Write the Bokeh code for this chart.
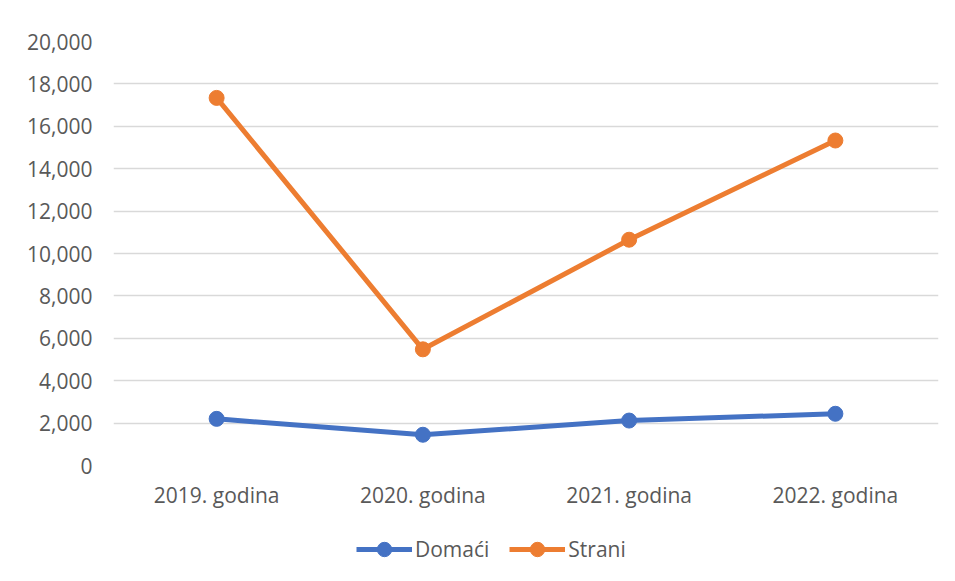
from bokeh.plotting import figure
from bokeh.layouts import column
from bokeh.models import Legend, LegendItem, NumeralTickFormatter, FixedTicker, Range1d
from bokeh.embed import file_html
from bokeh.resources import INLINE

categories = ["2019. godina", "2020. godina", "2021. godina", "2022. godina"]
domaci = [2200, 1450, 2120, 2440]
strani = [17340, 5480, 10650, 15330]
y_ticks = list(range(0, 20001, 2000))
series_names = ["Domaći", "Strani"]

BLUE = "#4472C4"
ORANGE = "#ED7D31"
TXT = "#595959"
FONT = "Open Sans"
FS = "21px"

p = figure(x_range=categories, width=947, height=511, output_backend="svg",
           toolbar_location=None, min_border_left=113, min_border_right=9,
           min_border_top=41, min_border_bottom=46)
p.y_range = Range1d(0, 20000)
p.outline_line_color = None

p.line(categories, domaci, line_color=BLUE, line_width=5)
p.scatter(categories, domaci, size=15, fill_color=BLUE, line_color=BLUE)
p.line(categories, strani, line_color=ORANGE, line_width=5)
p.scatter(categories, strani, size=15, fill_color=ORANGE, line_color=ORANGE)

p.yaxis.ticker = FixedTicker(ticks=y_ticks)
p.yaxis.formatter = NumeralTickFormatter(format="0,0")
for ax in (p.xaxis[0], p.yaxis[0]):
    ax.axis_line_color = None
    ax.major_tick_line_color = None
    ax.minor_tick_line_color = None
    ax.major_label_text_font = FONT
    ax.major_label_text_font_size = FS
    ax.major_label_text_color = TXT
p.yaxis.major_label_standoff = 15
p.xaxis.major_label_standoff = 9

p.xgrid.grid_line_color = None
p.ygrid.grid_line_color = "#D9D9D9"
p.ygrid.grid_line_width = 1.5

# legend strip below the chart (series drawn out of view, only legend shows)
lg = figure(width=947, height=62, output_backend="svg", toolbar_location=None,
            x_range=categories, y_range=Range1d(-2, -1),
            x_axis_location=None, y_axis_location=None,
            min_border=0, min_border_left=0, min_border_right=0,
            min_border_top=0, min_border_bottom=0)
lg.grid.visible = False
lg.outline_line_color = None
items = []
for name, col, vals in zip(series_names, [BLUE, ORANGE], [domaci, strani]):
    r1 = lg.line(categories, vals, line_color=col, line_width=5)
    r2 = lg.scatter(categories, vals, size=15, fill_color=col, line_color=col)
    items.append(LegendItem(label=name, renderers=[r1, r2]))
legend = Legend(items=items, orientation="horizontal", location=(243, 6),
                label_text_font=FONT, label_text_font_size=FS,
                label_text_color=TXT, glyph_width=56, glyph_height=36,
                spacing=20, label_standoff=3, border_line_color=None,
                background_fill_alpha=0, margin=0, padding=4)
lg.add_layout(legend, "center")

layout = column(p, lg, spacing=0)
open("out.html", "w").write(file_html(layout, INLINE))
